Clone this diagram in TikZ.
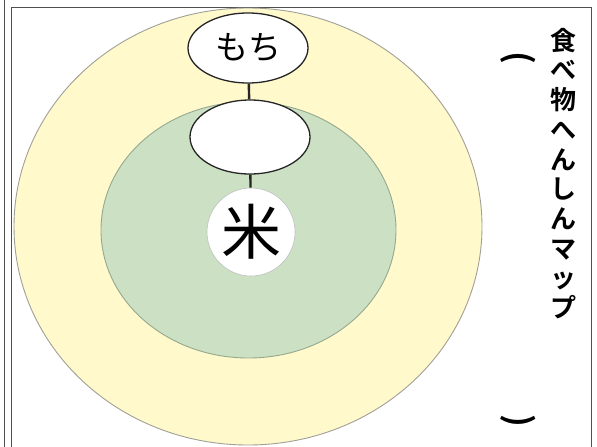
\documentclass[tikz,border=0pt]{standalone}
\usepackage{fontspec}
\usepackage{graphicx}
\setmainfont{Noto Sans CJK JP}
\newfontfamily\jpbold{Noto Sans CJK JP Bold}
\usetikzlibrary{shapes.geometric}
\definecolor{outerfill}{RGB}{255,249,204}
\definecolor{outerline}{RGB}{160,160,150}
\definecolor{innerfill}{RGB}{204,225,196}
\definecolor{innerline}{RGB}{150,168,142}
\definecolor{frameline}{RGB}{80,80,80}
\tikzset{
  bubble/.style={ellipse, draw=black!85, line width=1.3pt, fill=white, minimum width=120pt, minimum height=70pt, inner sep=0pt, font=\fontsize{33}{33}\selectfont},
  core/.style={circle, draw=black!25, line width=0.6pt, fill=white, minimum size=88pt, inner sep=0pt, font=\fontsize{60}{60}\selectfont},
  link/.style={draw=black!85, line width=2.4pt},
  frame/.style={draw=frameline, line width=1pt},
  vparen/.style={font=\jpbold\fontsize{34}{34}\selectfont, inner sep=0pt}
}
\begin{document}
\begin{tikzpicture}[x=1pt,y=-1pt]
\useasboundingbox (0,0) rectangle (597,447);
\fill[white] (0,0) rectangle (597,447);
% frame lines
\draw[frame] (4,0) -- (4,447);
\draw[frame] (11.5,460) -- (11.5,7) -- (591,7) -- (591,460);
% rings
\path[fill=outerfill, draw=outerline, line width=0.9pt] (248,226.5) ellipse [x radius=234, y radius=218.5];
\path[fill=innerfill, draw=innerline, line width=0.9pt] (248.5,230) ellipse [x radius=147.5, y radius=128];
% nodes
\node[bubble] (mochi) at (248,48) {もち};
\node[bubble, minimum height=74pt] (mid) at (250,137) {};
\node[core] (kome) at (251,232) {米};
\draw[link] (mochi) -- (mid);
\draw[link] (mid) -- (kome);
% title (vertical)
\node[font=\jpbold\fontsize{26}{29.7}\selectfont, align=center, inner sep=0pt] (title) at (563,173.5)
  {食\\べ\\物\\へ\\ん\\し\\ん\\マ\\ッ\\プ};
\node[vparen] (lpar) at (518,58) {\rotatebox{-90}{(}};
\node[vparen] (rpar) at (518,421) {\rotatebox{-90}{)}};
\end{tikzpicture}
\end{document}
